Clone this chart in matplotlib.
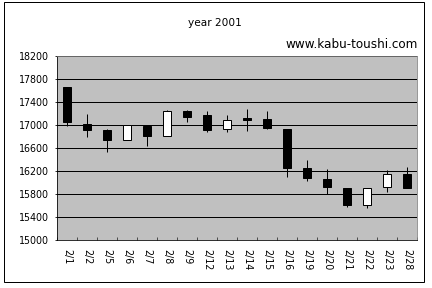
import numpy as np
import matplotlib
matplotlib.use("Agg")
import matplotlib.pyplot as plt
from matplotlib.patches import Rectangle

# Daily OHLC values, Feb 2001
dates = ["2/1", "2/2", "2/5", "2/6", "2/7", "2/8", "2/9", "2/12", "2/13",
         "2/14", "2/15", "2/16", "2/19", "2/20", "2/21", "2/22", "2/23", "2/28"]
opens = [17650, 17020, 16900, 16740, 16970, 16810, 17240, 17160, 16920,
         17110, 17100, 16920, 16250, 16060, 15900, 15600, 15910, 16150]
highs = [17660, 17190, 16930, 17000, 16970, 17260, 17260, 17230, 17160,
         17270, 17240, 16920, 16390, 16230, 15900, 15900, 16210, 16270]
lows = [16980, 16790, 16530, 16740, 16630, 16810, 17040, 16870, 16870,
        16890, 16920, 16100, 16020, 15790, 15570, 15550, 15830, 15900]
closes = [17040, 16900, 16740, 17000, 16800, 17230, 17130, 16900, 17080,
          17090, 16940, 16250, 16070, 15910, 15600, 15900, 16150, 15900]
yticks = list(range(15000, 18201, 400))

fig = plt.figure(figsize=(6, 4), dpi=72)
ax = fig.add_axes([0.132, 0.167, 0.833, 0.640])
ax.set_facecolor("#c0c0c0")

x = np.arange(len(dates))
o = np.array(opens)
c = np.array(closes)

# wicks
ax.vlines(x, lows, highs, color="black", linewidth=1, zorder=2)
# bodies: white when up, black when down
body_colors = ["white" if cc > oo else "black" for oo, cc in zip(o, c)]
ax.bar(x, np.abs(c - o), bottom=np.minimum(o, c), width=0.4,
       color=body_colors, edgecolor="black", linewidth=1, zorder=3)

ax.set_xlim(-0.5, len(dates) - 0.5)
ax.set_ylim(15000, 18200)
ax.set_yticks(yticks)
ax.tick_params(axis="y", labelsize=9.5, length=2, direction="out", pad=6)

ax.set_xticks(x)
ax.set_xticklabels(dates, rotation=-90, fontsize=9.5)
ax.tick_params(axis="x", which="major", length=0, pad=9)
ax.set_xticks(np.arange(-0.5, len(dates), 1), minor=True)
ax.tick_params(axis="x", which="minor", length=3, direction="in")

ax.set_axisbelow(True)
ax.grid(axis="y", color="black", linewidth=1)
for side in ["top", "right"]:
    ax.spines[side].set_color("#808080")
for side in ["left", "bottom"]:
    ax.spines[side].set_color("black")

fig.text(0.498, 0.92, "year 2001", ha="center", va="center", fontsize=10.5)
fig.text(0.968, 0.844, "www.kabu-toushi.com", ha="right", va="center", fontsize=12)

fig.patches.append(Rectangle((0.009, 0.021), 0.972, 0.972, transform=fig.transFigure,
                             fill=False, edgecolor="black", linewidth=1))

fig.savefig("out.png", dpi=72)
